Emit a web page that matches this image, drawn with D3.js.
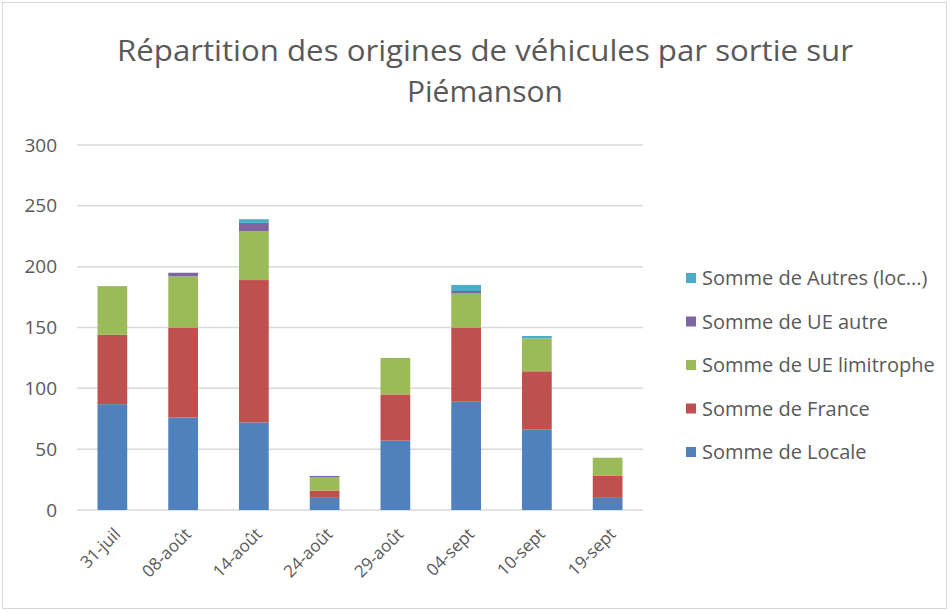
<!DOCTYPE html>
<html><head><meta charset="utf-8">
<script src="https://cdn.jsdelivr.net/npm/d3@7"></script>
<style>html,body{margin:0;padding:0;background:#fff;}</style>
</head><body>
<svg id="c" width="950" height="612"></svg>
<script>
const categories = ["31-juil","08-août","14-août","24-août","29-août","04-sept","10-sept","19-sept"];
const seriesNames = ["Somme de Locale","Somme de France","Somme de UE limitrophe","Somme de UE autre","Somme de Autres (loc...)"];
const locale      = [87, 76, 72, 10, 57, 89, 66, 10];
const france      = [57, 74, 117, 6, 38, 61, 48, 18];
const ueLimitrophe= [40, 42, 40, 11, 30, 28, 27, 15];
const ueAutre     = [0, 3, 7, 1, 0, 2, 0, 0];
const autres      = [0, 0, 3, 0, 0, 5, 2, 0];
const yTicks = [0, 50, 100, 150, 200, 250, 300];
const colors = ["#4f81bd","#c0504d","#9bbb59","#8064a2","#4bacc6"];
const titleLines = ["Répartition des origines de véhicules par sortie sur","Piémanson"];

const svg = d3.select("#c");
const font = "'Open Sans', 'Liberation Sans', sans-serif";
svg.append("rect").attr("x",2.5).attr("y",2.5).attr("width",944).attr("height",606)
  .attr("fill","#fff").attr("stroke","#d9d9d9").attr("stroke-width",1);

const m = {left:77, right:643, top:145, bottom:510};
const x = d3.scaleBand().domain(categories).range([m.left, m.right]).paddingInner(0.58).paddingOuter(0.29);
const y = d3.scaleLinear().domain([0,300]).range([m.bottom, m.top]);

// gridlines
svg.append("g").selectAll("line").data(yTicks).join("line")
  .attr("x1",m.left).attr("x2",m.right)
  .attr("y1",d=>y(d)).attr("y2",d=>y(d))
  .attr("stroke","#d9d9d9").attr("stroke-width",1.5);

// y axis labels
const yAxis = d3.axisLeft(y).tickValues(yTicks).tickSize(0).tickPadding(0);
const gy = svg.append("g").attr("transform",`translate(${m.left-20},0)`).call(yAxis);
gy.select(".domain").remove();
gy.selectAll("text").attr("font-family",font).attr("font-size",19).attr("fill","#595959");

// stacked data
const rows = categories.map((c,i)=>({cat:c, s0:locale[i], s1:france[i], s2:ueLimitrophe[i], s3:ueAutre[i], s4:autres[i]}));
const stack = d3.stack().keys(["s0","s1","s2","s3","s4"])(rows);
svg.append("g").selectAll("g").data(stack).join("g")
  .attr("fill",(d,i)=>colors[i])
  .selectAll("rect").data(d=>d).join("rect")
  .attr("x",d=>x(d.data.cat)).attr("width",x.bandwidth())
  .attr("y",d=>y(d[1])).attr("height",d=>y(d[0])-y(d[1]));

// x labels
const xAxis = d3.axisBottom(x).tickSize(0).tickPadding(0);
const gx = svg.append("g").attr("transform",`translate(0,${m.bottom+10})`).call(xAxis);
gx.select(".domain").remove();
gx.selectAll("text").attr("font-family",font).attr("font-size",17).attr("fill","#595959")
  .attr("text-anchor","end").attr("dy","0.35em")
  .attr("transform","translate(5,11) rotate(-45)");

// title
const titleWidths = [736, 156];
svg.append("g").selectAll("text").data(titleLines).join("text")
  .attr("x",485).attr("y",(d,i)=>61+i*41)
  .attr("text-anchor","middle")
  .attr("font-family",font).attr("font-size",29).attr("fill","#595959")
  .attr("textLength",(d,i)=>titleWidths[i]).attr("lengthAdjust","spacingAndGlyphs")
  .text(d=>d);

// legend
const legendOrder = [4,3,2,1,0];
const lg = svg.append("g").selectAll("g").data(legendOrder).join("g")
  .attr("transform",(d,i)=>`translate(686,${278+i*43.5})`);
lg.append("rect").attr("x",0).attr("y",-5).attr("width",10).attr("height",10).attr("fill",d=>colors[d]);
lg.append("text").attr("x",16).attr("y",0).attr("dy","0.35em")
  .attr("font-family",font).attr("font-size",20).attr("fill","#595959")
  .text(d=>seriesNames[d]);
</script>
</body></html>
